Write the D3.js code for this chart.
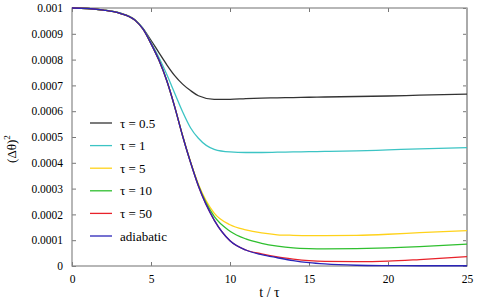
<!DOCTYPE html>
<html>
<head>
<meta charset="utf-8">
<script src="https://cdn.jsdelivr.net/npm/d3@7"></script>
<style>
  body { margin: 0; background: #fff; }
</style>
</head>
<body>
<div id="chart"></div>
<script>
// time axis (t / tau), shared by every curve
var tValues = [0, 1, 2, 3, 4, 4.5, 5, 5.5, 6, 6.5, 7, 7.5, 8, 9, 10, 11, 12, 13, 14, 15, 16, 18, 20, 22, 25];

// (dtheta)^2 in units of 1e-4
var tau05 = [10.0, 9.98, 9.92, 9.81, 9.54, 9.20, 8.75, 8.27, 7.80, 7.38, 7.05, 6.80, 6.60, 6.46, 6.46, 6.49, 6.51, 6.52, 6.53, 6.54, 6.55, 6.57, 6.59, 6.62, 6.66];
var tau1 = [10.0, 9.98, 9.92, 9.81, 9.53, 9.21, 8.66, 8.08, 7.42, 6.70, 5.98, 5.36, 4.95, 4.52, 4.42, 4.40, 4.40, 4.41, 4.42, 4.43, 4.44, 4.46, 4.50, 4.54, 4.59];
var tau5 = [10.0, 9.98, 9.92, 9.80, 9.52, 9.18, 8.62, 7.98, 7.18, 6.17, 5.06, 4.04, 3.17, 2.05, 1.60, 1.40, 1.28, 1.21, 1.19, 1.18, 1.18, 1.19, 1.23, 1.29, 1.37];
var tau10 = [10.0, 9.98, 9.92, 9.80, 9.52, 9.18, 8.62, 7.98, 7.18, 6.17, 5.05, 4.03, 3.13, 1.92, 1.35, 1.05, 0.88, 0.77, 0.70, 0.67, 0.66, 0.67, 0.70, 0.75, 0.85];
var tau50 = [10.0, 9.98, 9.92, 9.80, 9.52, 9.18, 8.62, 7.98, 7.18, 6.17, 5.04, 4.02, 3.10, 1.78, 0.98, 0.62, 0.47, 0.35, 0.27, 0.21, 0.18, 0.17, 0.19, 0.25, 0.36];
var adiabatic = [10.0, 9.98, 9.92, 9.80, 9.52, 9.18, 8.62, 7.98, 7.18, 6.17, 5.04, 4.02, 3.10, 1.78, 0.98, 0.62, 0.44, 0.32, 0.21, 0.13, 0.08, 0.03, 0.015, 0.01, 0.01];

var seriesNames = ["\u03c4 = 0.5", "\u03c4 = 1", "\u03c4 = 5", "\u03c4 = 10", "\u03c4 = 50", "adiabatic"];
var seriesValues = [tau05, tau1, tau5, tau10, tau50, adiabatic];
var seriesColors = ["#333333", "#3cc4c4", "#ffd21a", "#2fbf2f", "#e8222a", "#2a24b8"];

var xTicks = [0, 5, 10, 15, 20, 25];
var yTicks = [0, 0.0001, 0.0002, 0.0003, 0.0004, 0.0005, 0.0006, 0.0007, 0.0008, 0.0009, 0.001];
var yTickLabels = ["0", "0.0001", "0.0002", "0.0003", "0.0004", "0.0005", "0.0006", "0.0007", "0.0008", "0.0009", "0.001"];

var serif = "'Liberation Serif', 'Times New Roman', Times, serif";

// set the dimensions and margins of the graph
var width = 479,
    height = 304,
    margin = { top: 8, right: 12, bottom: 38, left: 72 };
var innerW = width - margin.left - margin.right,
    innerH = height - margin.top - margin.bottom;

var svg = d3.select("#chart")
    .append("svg")
    .attr("width", width)
    .attr("height", height)
    .style("font-family", serif)
    .append("g")
    .attr("transform", "translate(" + margin.left + "," + margin.top + ")");

var x = d3.scaleLinear().domain([0, 25]).range([0, innerW]);
var y = d3.scaleLinear().domain([0, 0.001]).range([innerH, 0]);

// axes, ticks pointing inward
var axBottom = svg.append("g")
    .attr("transform", "translate(0," + innerH + ")")
    .call(d3.axisBottom(x).tickValues(xTicks).tickSize(-4).tickPadding(9).tickFormat(d3.format("d")));
var axTop = svg.append("g")
    .call(d3.axisTop(x).tickValues(xTicks).tickSize(-4).tickFormat(""));
var axLeft = svg.append("g")
    .call(d3.axisLeft(y).tickValues(yTicks).tickSize(-4).tickPadding(9)
        .tickFormat(function (d, i) { return yTickLabels[i]; }));
var axRight = svg.append("g")
    .attr("transform", "translate(" + innerW + ",0)")
    .call(d3.axisRight(y).tickValues(yTicks).tickSize(-4).tickFormat(""));

[axBottom, axTop, axLeft, axRight].forEach(function (g) {
    g.attr("font-family", null).attr("font-size", null);
    g.selectAll(".domain").remove();
    g.selectAll(".tick line").attr("stroke", "#777");
    g.selectAll(".tick text")
        .style("font-family", serif)
        .style("font-size", "11.5px")
        .style("fill", "#000");
});

// frame, right edge a bit heavier like the original
svg.append("rect")
    .attr("x", 0)
    .attr("y", 0)
    .attr("width", innerW)
    .attr("height", innerH)
    .attr("fill", "none")
    .attr("stroke", "#888")
    .attr("stroke-width", 1.2);
svg.append("line")
    .attr("x1", innerW).attr("x2", innerW)
    .attr("y1", 0).attr("y2", innerH)
    .attr("stroke", "#aaa")
    .attr("stroke-width", 2);

// curves
var line = d3.line()
    .x(function (d) { return x(d[0]); })
    .y(function (d) { return y(d[1] * 1e-4); })
    .curve(d3.curveMonotoneX);

seriesValues.forEach(function (vals, i) {
    svg.append("path")
        .datum(tValues.map(function (t, j) { return [t, vals[j]]; }))
        .attr("d", line)
        .attr("fill", "none")
        .attr("stroke", seriesColors[i])
        .attr("stroke-width", 1.3);
});

// legend
var legend = svg.append("g")
    .attr("transform", "translate(18,115)");
seriesNames.forEach(function (name, i) {
    var row = legend.append("g").attr("transform", "translate(0," + (i * 22.6) + ")");
    row.append("line")
        .attr("x1", 0).attr("x2", 22)
        .attr("y1", 0).attr("y2", 0)
        .attr("stroke", seriesColors[i])
        .attr("stroke-width", 1.3);
    row.append("text")
        .attr("x", 30)
        .attr("y", 4.5)
        .style("font-family", serif)
        .style("font-size", "13px")
        .text(name);
});

// axis labels
svg.append("text")
    .attr("x", innerW / 2)
    .attr("y", innerH + 31)
    .attr("text-anchor", "middle")
    .style("font-family", serif)
    .style("font-size", "14px")
    .text("t /  \u03c4");

var yl = svg.append("text")
    .attr("transform", "translate(-56," + (innerH / 2 + 12) + ") rotate(-90)")
    .attr("text-anchor", "middle")
    .style("font-family", serif)
    .style("font-size", "13px");
yl.append("tspan").text("(\u0394\u03b8)");
yl.append("tspan").attr("dy", -6).style("font-size", "9px").text("2");
</script>
</body>
</html>
